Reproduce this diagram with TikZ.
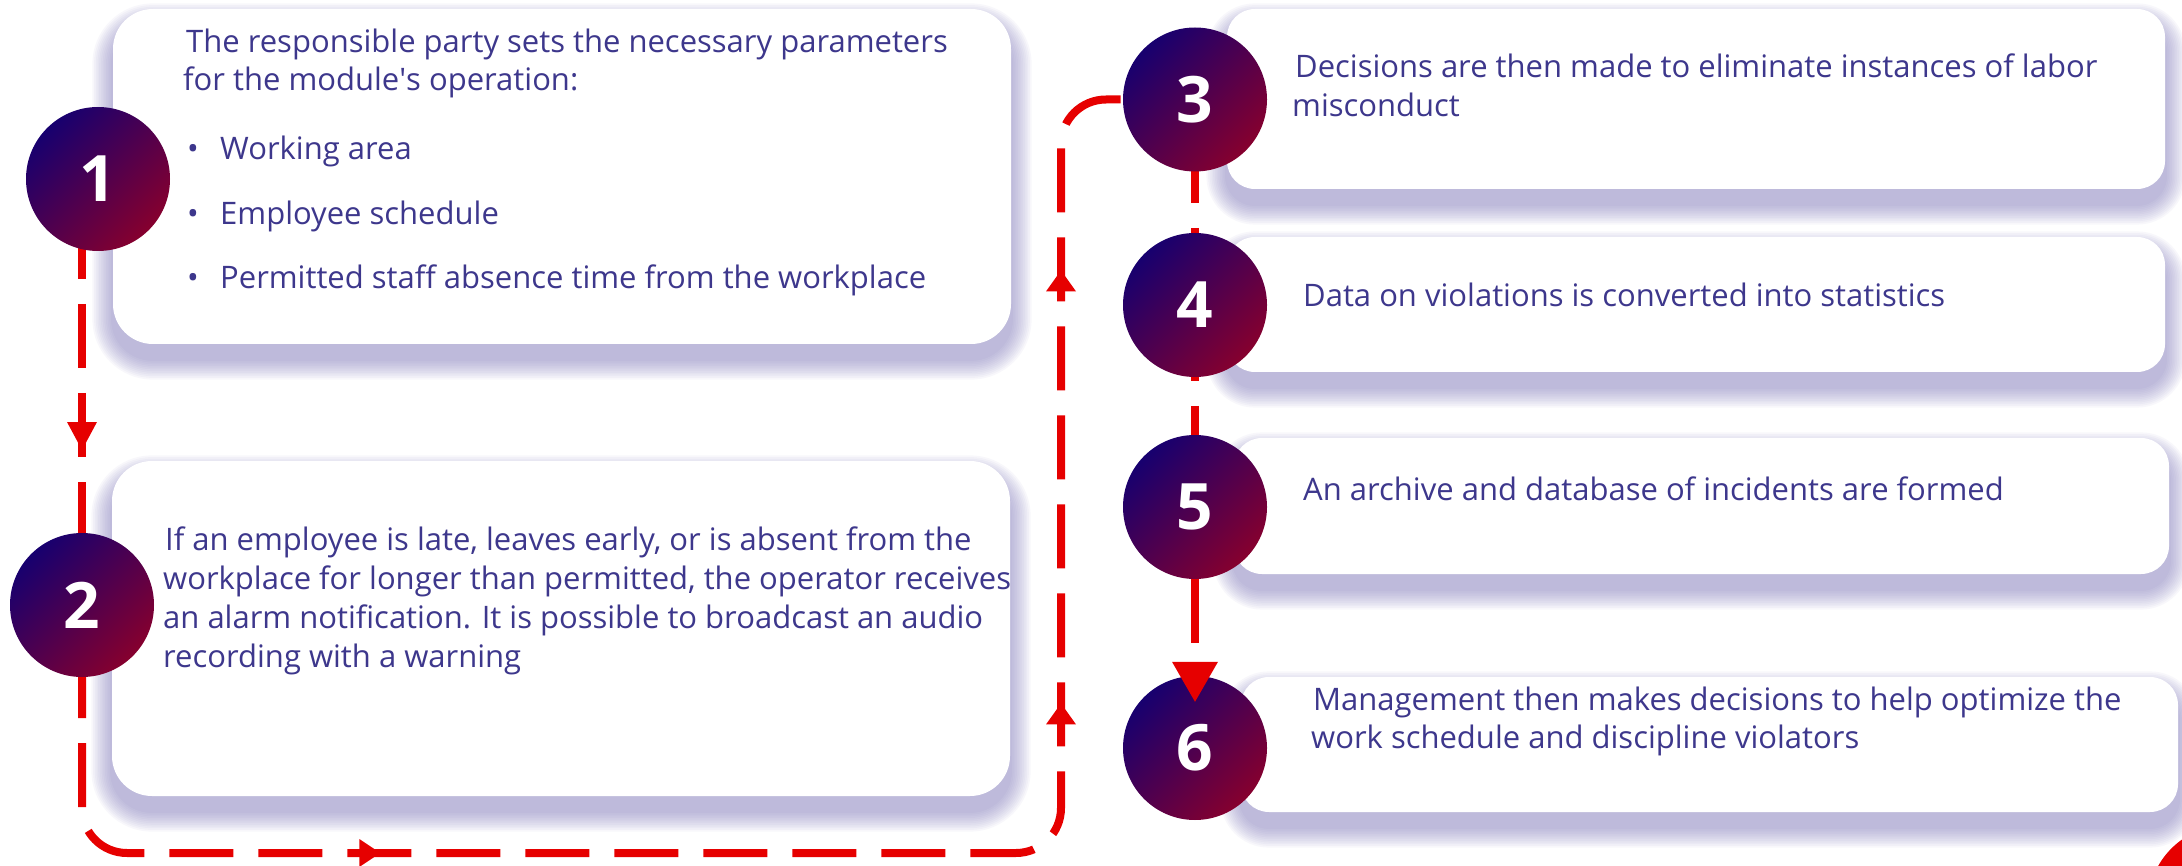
\documentclass[tikz,border=0pt]{standalone}
\usepackage{fontspec}
\setmainfont{Open Sans}
\usetikzlibrary{arrows.meta,decorations.markings,calc}
\definecolor{txtc}{HTML}{3D378C}
\definecolor{redc}{HTML}{E60000}
\definecolor{shc}{HTML}{7B74B6}
\definecolor{indc}{HTML}{17006F}
\definecolor{crimc}{HTML}{86002E}
\pgfdeclarelayer{background}
\pgfsetlayers{background,main}
\newcommand{\cardshadow}[2]{%
  \foreach \k in {1,...,12}{%
    \pgfmathsetmacro{\ee}{1.7*\k}%
    \pgfmathsetmacro{\rr}{#2+1.7*\k}%
    \fill[shc, opacity=0.055, rounded corners=\rr pt]
      ($(#1.south west)+(-\ee,15+\ee)$) rectangle ($(#1.north east)+(\ee,15-\ee)$);
  }}
\newcommand{\arrowtri}[2]{\fill[redc, sharp corners] (0,0) -- (-#1,#2) -- (-#1,-#2) -- cycle;}
\tikzset{
  card/.style={fill=white, rounded corners=#1, inner sep=0pt, draw=none},
  num/.style={circle, minimum size=144pt, inner sep=0pt, top color=indc, bottom color=crimc,
    shading angle=45, text=white, font=\fontsize{64}{64}\selectfont\bfseries},
  txt/.style={anchor=base west, inner sep=0pt, text=txtc, font=\fontsize{31}{39}\selectfont},
  redline/.style={draw=redc, line width=8pt, dash pattern=on 64pt off 25pt},
}
\begin{document}
\begin{tikzpicture}[x=1pt,y=-1pt]
\useasboundingbox (0,0) rectangle (2182,866);
\fill[redc] (2228,905) circle[radius=80];

% cards
\node[card=40pt, minimum width=898pt, minimum height=335pt] (b1) at (562,176.5) {};
\node[card=40pt, minimum width=898pt, minimum height=335pt] (b2) at (561,628.5) {};
\node[card=28pt, minimum width=938pt, minimum height=180pt] (b3) at (1696,99) {};
\node[card=28pt, minimum width=938pt, minimum height=135pt] (b4) at (1696,304.5) {};
\node[card=28pt, minimum width=935pt, minimum height=136pt] (b5) at (1701.5,506) {};
\node[card=28pt, minimum width=937pt, minimum height=135pt] (b6) at (1709.5,744.5) {};
\begin{pgfonlayer}{background}
  \cardshadow{b1}{40}
  \cardshadow{b2}{40}
  \cardshadow{b3}{28}
  \cardshadow{b4}{28}
  \cardshadow{b5}{28}
  \cardshadow{b6}{28}
\end{pgfonlayer}

% texts
\node[txt] (t1a) at (186,53) {The responsible party sets the necessary parameters};
\node[txt] (t1b) at (183,91) {for the module\textquotesingle s operation:};
\node[txt] (d1) at (187,160) {•};
\node[txt] (t1c) at (220,160) {Working area};
\node[txt] (d2) at (187,225) {•};
\node[txt] (t1d) at (220,225) {Employee schedule};
\node[txt] (d3) at (187,289) {•};
\node[txt] (t1e) at (220,289) {Permitted staff absence time from the workplace};

\node[txt] (t2a) at (165,550) {If an employee is late, leaves early, or is absent from the};
\node[txt] (t2b) at (163,589) {workplace for longer than permitted, the operator receives};
\node[txt] (t2c) at (163,628) {an alarm notification. It is possible to broadcast an audio};
\node[txt] (t2d) at (163,667) {recording with a warning};

\node[txt] (t3a) at (1295,78) {Decisions are then made to eliminate instances of labor};
\node[txt] (t3b) at (1292,117) {misconduct};
\node[txt] (t4) at (1303,307) {Data on violations is converted into statistics};
\node[txt] (t5) at (1303,500) {An archive and database of incidents are formed};
\node[txt] (t6a) at (1313,710) {Management then makes decisions to help optimize the};
\node[txt] (t6b) at (1311,748) {work schedule and discipline violators};

% circle centres (coordinates for the connectors)
\coordinate (p1) at (98,179);
\coordinate (p2) at (82,605);
\coordinate (p3) at (1195,99.5);
\coordinate (p4) at (1195,305);
\coordinate (p5) at (1195,507);
\coordinate (p6) at (1195,748);
\coordinate (br) at (1061,853);

% connectors behind circles
\draw[redline, dash phase=53pt,
  postaction={decorate, decoration={markings,
    mark=at position 271pt with {\arrowtri{28}{15}}}}]
  (p2 |- p1) -- (p2);
\draw[redline, rounded corners=45pt, dash phase=40pt,
  postaction={decorate, decoration={markings,
    mark=at position 527pt with {\arrowtri{21}{14}},
    mark=at position 1338pt with {\arrowtri{21}{15}},
    mark=at position 1771pt with {\arrowtri{21}{15}}}}]
  (p2) -- (p2 |- br) -- (br) -- (br |- p3) -- (p3);
\draw[redline, dash phase=49.5pt] (p3) -- (p4) -- (p5);

% circles
\node[num] (c1) at (p1) {1};
\node[num] (c2) at (p2) {2};
\node[num] (c3) at (p3) {3};
\node[num] (c4) at (p4) {4};
\node[num] (c5) at (p5) {5};
\node[num] (c6) at (p6) {6};

\draw[redline, dash phase=0pt, -{Triangle[width=46pt,length=40pt,line width=0pt]}]
  (c5.south) -- ($(c6.north)+(0,26)$);
\end{tikzpicture}
\end{document}
